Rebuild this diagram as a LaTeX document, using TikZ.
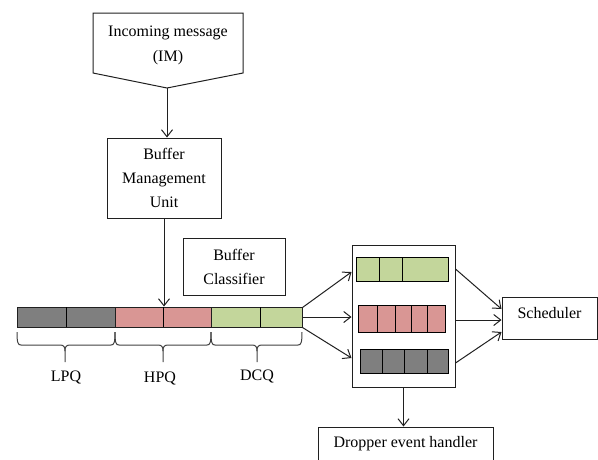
\documentclass[tikz,border=0pt]{standalone}
\usepackage{fontspec}
\setmainfont{Liberation Serif}
\usetikzlibrary{arrows.meta}

\definecolor{qgray}{HTML}{7F7F7F}
\definecolor{qpink}{HTML}{D99694}
\definecolor{qgreen}{HTML}{C3D69B}
\definecolor{edge}{HTML}{202020}

% curly brace under a queue segment: left end, tip, right end (x values)
\newcommand\queuebrace[3]{%
  \draw[bracel] (#1,332) .. controls (#1,343) and (#1+1,345) .. (#1+4,345)
    -- (#2-5,345) .. controls (#2-1,345) and (#2,347) .. (#2,351) -- (#2,362);
  \draw[bracel] (#3,332) .. controls (#3,343) and (#3-1,345) .. (#3-4,345)
    -- (#2+5,345) .. controls (#2+1,345) and (#2,347) .. (#2,351);
}

\begin{document}
\begin{tikzpicture}[x=1pt,y=-1pt,line width=1pt,
  every node/.style={font=\fontsize{16}{24}\selectfont},
  box/.style={draw=edge,inner sep=0pt,align=center},
  arr/.style={draw=edge,-{Straight Barb[length=7pt,width=11pt]}},
  seg/.style={draw=edge,inner sep=0pt,minimum height=20pt},
  bracel/.style={draw=black!75,line width=1pt},
  cellline/.style={draw=black,line width=1pt}]

\useasboundingbox (0,0) rectangle (598,459);
\clip (0,0) rectangle (598,459);

% incoming message (off-page connector shape)
\draw[draw=edge] (93,13) -- (243,13) -- (243,73) -- (167,88) -- (93,73) -- cycle;
\coordinate (imtip) at (167,88);
\node[align=center,font=\fontsize{16}{25}\selectfont] (im) at (168,45) {Incoming message\\(IM)};

% buffer management unit
\node[box,minimum width=114pt,minimum height=80pt] (bmu) at (164,178)
  {Buffer\\Management\\Unit};

% buffer classifier
\node[box,minimum width=102pt,minimum height=57pt] (bc) at (234,266.5)
  {Buffer\\Classifier};

% main queue: LPQ | HPQ | DCQ
\node[seg,fill=qgray,minimum width=98pt] (lpq) at (66,317) {};
\node[seg,fill=qpink,minimum width=96pt] (hpq) at (163,317) {};
\node[seg,fill=qgreen,minimum width=91pt] (dcq) at (256.5,317) {};
\draw[cellline] (66,307) -- (66,327) (163,307) -- (163,327) (260,307) -- (260,327);

\queuebrace{17}{65}{115}
\queuebrace{115}{163}{211}
\queuebrace{211}{257}{302}
\node (lpql) at (66,377) {LPQ};
\node (hpql) at (160,378) {HPQ};
\node (dcql) at (257,376) {DCQ};

% classified buffers
\node[box,minimum width=103pt,minimum height=142pt] (buf) at (403.5,316) {};
\draw[cellline,fill=qgreen] (356,257) rectangle (448,281);
\draw[cellline] (379,257) -- (379,281) (402,257) -- (402,281);
\draw[cellline,fill=qpink] (358,305) rectangle (445,332);
\draw[cellline] (377,305) -- (377,332) (395,305) -- (395,332)
  (411,305) -- (411,332) (427,305) -- (427,332);
\draw[cellline,fill=qgray] (360,349) rectangle (448,373);
\draw[cellline] (382,349) -- (382,373) (404,349) -- (404,373) (427,349) -- (427,373);

% scheduler
\node[box,minimum width=95pt,minimum height=42pt,text height=21pt,text depth=21pt]
  (sched) at (549.5,318) {Scheduler};

% dropper event handler
\node[box,minimum width=175pt,text height=20pt,text depth=23pt]
  (drop) at (405.5,448.5) {Dropper event handler};

% connectors
\draw[arr] (imtip) -- (imtip |- bmu.north);
\draw[arr] (bmu.south) -- (bmu.south |- hpq.north);
\draw[arr] ([yshift=-1pt]dcq.north east) -- ([yshift=44pt]buf.west);
\draw[arr] (dcq.east) -- (dcq.east -| buf.west);
\draw[arr] (dcq.south east) -- ([yshift=-42pt]buf.west);
\draw[arr] ([yshift=47pt]buf.east) -- ([yshift=9pt]sched.west);
\draw[arr] ([yshift=-4pt]buf.east) -- ([yshift=-2pt]sched.west);
\draw[arr] ([yshift=-47pt]buf.east) -- ([yshift=-14pt]sched.west);
\draw[arr] (buf.south) -- (buf.south |- drop.north);
\end{tikzpicture}
\end{document}
